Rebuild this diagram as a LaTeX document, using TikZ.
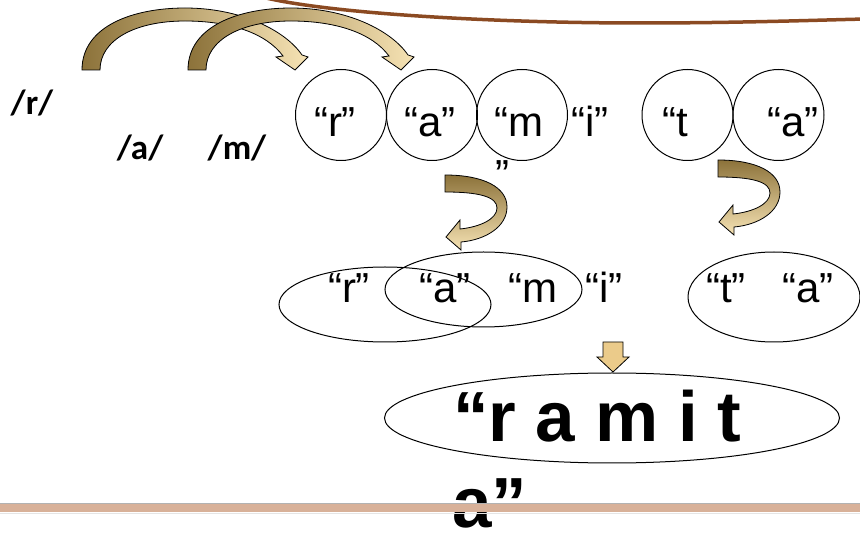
\documentclass[tikz,border=0pt]{standalone}
\usepackage{fontspec}
\setmainfont{Liberation Sans}
\newfontfamily\phonfont{Carlito}
\usetikzlibrary{shapes.geometric,positioning}

\definecolor{bronzeD}{HTML}{8C723A}
\definecolor{bronzeL}{HTML}{F6E3B4}
\definecolor{tanfill}{HTML}{EBCB8A}
\definecolor{slideline}{HTML}{8B4A22}
\definecolor{slidebar}{HTML}{D8B199}

\begin{document}
\begin{tikzpicture}[x=1pt,y=-1pt,
  letter/.style={circle,draw,line width=1pt,minimum size=91pt,inner sep=0pt},
  chunk/.style={ellipse,draw,line width=1pt,inner sep=0pt},
  glyph/.style={anchor=base,inner sep=0pt,font=\fontsize{42}{44}\selectfont},
  phon/.style={anchor=base,inner sep=0pt,font=\phonfont\bfseries\fontsize{35}{37}\selectfont},
  hop/.style={draw=black,line width=0.8pt,left color=bronzeD,right color=bronzeL},
  curl/.style={draw=black,line width=0.8pt,top color=bronzeD,bottom color=bronzeL}]
\useasboundingbox (0,0) rectangle (860,534);

% slide decoration
\draw[slideline, line width=3.5pt] (262,-3) .. controls (330,14) and (500,23) .. (640,23) .. controls (740,23) and (820,20) .. (866,19);

% sounds
\node[phon] (pr) at (32,115) {/r/};
\node[phon] (pa) at (140,160) {/a/};
\node[phon] (pm) at (237,160) {/m/};

% jumps from the sounds to the letters
\foreach \dx in {0,106}
  \draw[hop, xshift=\dx] (82,70) .. controls (82,25) and (135,8) .. (185,8) .. controls (240,8) and (285,30) .. (302,55) -- (308,57) -- (295,70) -- (276,57) -- (283,56) .. controls (266,33) and (230,21) .. (185,21) .. controls (135,21) and (100,40) .. (100,70) -- cycle;

% letters, one circle each
\node[letter] (c1) at (341,115) {};
\node[letter] (c2) at (432,115) {};
\node[letter] (c3) at (522,115) {};
\node[letter] (c4) at (687.5,115) {};
\node[letter] (c5) at (778.5,115) {};

\node[glyph] (l1) at (335,137) {“r”};
\node[glyph] (l2) at (430,137) {“a”};
\node[glyph] (l3) at (519,137) {“m};
\node[glyph] (l3q) at (502,190) {”};
\node[glyph] (l4) at (590,137) {“i”};
\node[glyph] (l5) at (675,137) {“t};
\node[glyph] (l6) at (793,137) {“a”};

% curls down to the syllables
\foreach \ox/\oy in {445/175, 718/160}
  \draw[curl, shift={(\ox,\oy)}] (0,0) .. controls (38,0) and (62,12) .. (62,32) .. controls (62,52) and (40,65) .. (16,67) -- (16,75) -- (1,62) -- (15,45) -- (15,54) .. controls (35,52) and (52,44) .. (52,33) .. controls (52,22) and (35,17) .. (0,17) -- cycle;

% syllables
\node[chunk, minimum width=212pt, minimum height=75pt] (sA) at (385,304.5) {};
\node[chunk, minimum width=197pt, minimum height=75pt] (sB) at (483.5,289.5) {};
\node[chunk, minimum width=172pt, minimum height=90pt] (sC) at (774,297) {};

\node[glyph] (m1) at (349,303) {“r”};
\node[glyph] (m2) at (445,303) {“a”};
\node[glyph] (m3) at (533,303) {“m};
\node[glyph] (m4) at (604,303) {“i”};
\node[glyph] (m5) at (726,303) {“t”};
\node[glyph] (m6) at (808,303) {“a”};

% down to the word
\draw[fill=tanfill, line width=0.8pt] (603,342) -- (623,342) -- (623,357) -- (629,357) -- (613,372) -- (597,357) -- (603,357) -- cycle;

\node[chunk, minimum width=455pt, minimum height=90pt] (word) at (612,418) {};
\node[anchor=base west, inner sep=0pt, font=\bfseries\fontsize{71}{86}\selectfont] (w1) at (453,442) {“r a m i t};
\node[anchor=base west, inner sep=0pt, font=\bfseries\fontsize{71}{86}\selectfont] (w2) at (452,528) {a”};

% slide bar
\fill[slidebar] (0,503.5) rectangle (860,512);
\draw[gray!60, line width=0.5pt] (0,503.5) -- (860,503.5);
\draw[gray!20, line width=0.6pt] (0,513.5) -- (860,513.5);
\end{tikzpicture}
\end{document}
